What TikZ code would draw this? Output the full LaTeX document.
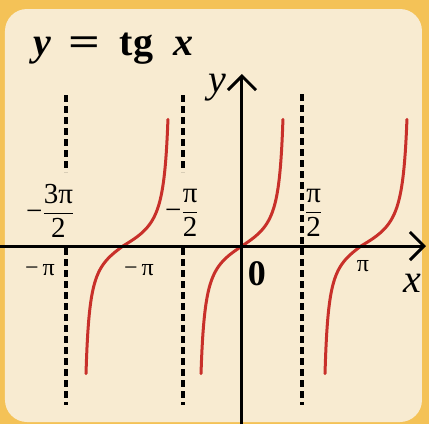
\documentclass[tikz,border=0pt]{standalone}
\usepackage{amsmath}
\usepackage[no-math]{fontspec}
\setmainfont{Liberation Serif}
\usepackage{tikz}
\usetikzlibrary{arrows.meta,calc}

\definecolor{framecol}{HTML}{F4C257}
\definecolor{papercol}{HTML}{F8EBD1}
\definecolor{curvecol}{HTML}{C8302A}

\begin{document}
\begin{tikzpicture}[x=1pt, y=1pt,
    axis/.style={line width=3pt, -{Straight Barb[length=14pt, width=28pt]}},
    asym/.style={line width=3.6pt, dash pattern=on 7pt off 4pt},
    branch/.style={line width=3pt, color=curvecol, line cap=round},
    lbl/.style={inner sep=0pt, font=\fontsize{24}{24}\selectfont},
    frac/.style={inner sep=0pt, anchor=base west, font=\fontsize{29}{29}\selectfont},
    big/.style={inner sep=0pt, font=\fontsize{40}{40}\selectfont}]

% Frame and paper, fixed to the size of the reference
\fill[framecol] (-242,-178) rectangle (187,246);
\fill[papercol, rounded corners=22pt] (-237,-176) rectangle (180,237);
\useasboundingbox (-242,-178) rectangle (187,246);

% Axes ends
\coordinate (xstart) at (-242,0);
\coordinate (xend) at (184,0);
\coordinate (ystart) at (0,-178);
\coordinate (yend) at (0,172);

% Asymptotes
\foreach \xa in {-176,-59} {
    \draw[asym] (\xa,151) -- (\xa,74);
    \draw[asym] (\xa,-2) -- (\xa,-159);
}
\draw[asym] (60,152) -- (60,-159);

% Branches of the tangent
\foreach \c/\l/\r in {-119/37/45, 0/41/41, 119/36/46} {
    \draw[branch] plot[domain=-1.42:0, samples=80] ({\c+\l*\x/1.42}, {19.4*tan(\x r)})
        -- plot[domain=0:1.42, samples=80] ({\c+\r*\x/1.42}, {19.4*tan(\x r)});
}

% Axes
\draw[axis] (xstart) -- (xend);
\draw[axis] (ystart) -- (yend);

% Title
\node[big, anchor=base west] (title) at (-209,191)
    {\textbf{\textit{y}}\hspace{17pt}\scalebox{1.4}[1]{\textbf{=}}\hspace{20pt}\textbf{tg}\hspace{20pt}\textbf{\textit{x}}};

% Axis labels
\node[big] (ylab) at (-25,158) {\textit{y}};
\node[big] (xlab) at (170,-37) {\textit{x}};
\node[big, font=\fontsize{36}{36}\selectfont\bfseries] (zerolab) at (15,-28) {0};
\node[lbl] (mpilab) at (-202,-24) {−\,π};
\node[lbl] (mpilabb) at (-103,-24) {−\,π};
\node[lbl] (pilab) at (121,-20) {π};

% Asymptote labels
\node[frac] (mthreehalfpi) at (-216,26) {$\mbox{−}\dfrac{\mbox{3π}}{\mbox{2}}$};
\node[frac] (mhalfpi) at (-77,27) {$\mbox{−}\dfrac{\mbox{π}}{\mbox{2}}$};
\node[frac] (halfpi) at (63,27) {$\dfrac{\mbox{π}}{\mbox{2}}$};

\end{tikzpicture}
\end{document}
